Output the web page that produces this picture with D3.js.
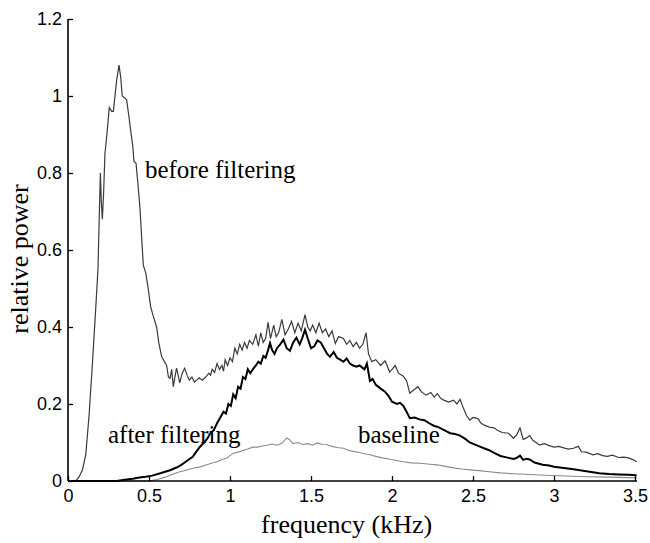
<!DOCTYPE html>
<html>
<head>
<meta charset="utf-8">
<title>relative power vs frequency</title>
<script src="https://d3js.org/d3.v7.min.js"></script>
<style>
  body { margin: 0; background: #fff; }
  .tick text { font-family: "Liberation Sans", Arial, sans-serif; font-size: 18px; fill: #000; }
  .serif { font-family: "Liberation Serif", "Times New Roman", serif; fill: #000; }
</style>
</head>
<body>
<div id="chart"></div>
<script>
// series: [frequency kHz, relative power]
const beforeFiltering = [
  [0,0],[0.04,0],[0.055,0.003],[0.07,0.012],[0.09,0.03],[0.11,0.07],[0.13,0.17],[0.15,0.3],[0.17,0.44],[0.185,0.55],
  [0.195,0.72],[0.2,0.8],[0.205,0.73],[0.212,0.68],[0.22,0.75],[0.228,0.85],[0.24,0.9],[0.255,0.97],[0.27,0.96],[0.28,0.96],
  [0.3,1.04],[0.315,1.08],[0.325,1.05],[0.335,1.0],[0.35,0.995],[0.362,0.99],[0.375,0.95],[0.387,0.91],[0.4,0.87],[0.407,0.83],
  [0.42,0.825],[0.43,0.78],[0.444,0.71],[0.455,0.63],[0.465,0.56],[0.48,0.54],[0.495,0.5],[0.51,0.453],[0.525,0.43],[0.547,0.4],
  [0.56,0.36],[0.578,0.323],[0.595,0.31],[0.609,0.3],[0.62,0.27],[0.63,0.267],[0.64,0.29],[0.65,0.245],[0.66,0.27],[0.67,0.293],
  [0.68,0.275],[0.69,0.255],[0.705,0.28],[0.72,0.293],[0.735,0.275],[0.749,0.262],[0.765,0.27],[0.78,0.257],[0.795,0.262],[0.81,0.268],
  [0.83,0.262],[0.85,0.27],[0.87,0.28],[0.88,0.275],[0.89,0.29],[0.905,0.282],[0.92,0.305],[0.935,0.29],[0.95,0.3],[0.96,0.285],
  [0.97,0.315],[0.985,0.3],[1.0,0.32],[1.015,0.31],[1.03,0.345],[1.045,0.33],[1.06,0.355],[1.075,0.34],[1.09,0.36],[1.105,0.345],
  [1.12,0.365],[1.14,0.355],[1.16,0.38],[1.175,0.35],[1.19,0.385],[1.205,0.36],[1.22,0.37],[1.235,0.412],[1.25,0.37],[1.27,0.405],
  [1.285,0.375],[1.3,0.385],[1.32,0.42],[1.34,0.38],[1.36,0.395],[1.38,0.415],[1.4,0.385],[1.42,0.41],[1.44,0.39],[1.463,0.432],
  [1.48,0.4],[1.495,0.39],[1.51,0.405],[1.53,0.385],[1.55,0.41],[1.57,0.385],[1.59,0.395],[1.61,0.375],[1.63,0.39],[1.65,0.357],
  [1.67,0.375],[1.7,0.37],[1.72,0.355],[1.74,0.365],[1.76,0.349],[1.78,0.36],[1.8,0.345],[1.82,0.355],[1.84,0.385],[1.855,0.33],
  [1.875,0.31],[1.9,0.315],[1.93,0.3],[1.957,0.312],[1.97,0.3],[1.985,0.283],[2.0,0.29],[2.02,0.3],[2.04,0.28],[2.07,0.272],
  [2.09,0.26],[2.11,0.228],[2.13,0.235],[2.16,0.245],[2.18,0.232],[2.21,0.223],[2.24,0.23],[2.26,0.218],[2.28,0.227],[2.3,0.215],
  [2.32,0.21],[2.35,0.205],[2.38,0.21],[2.4,0.2],[2.42,0.212],[2.44,0.19],[2.46,0.17],[2.48,0.158],[2.5,0.165],[2.53,0.162],
  [2.55,0.15],[2.57,0.145],[2.6,0.14],[2.63,0.138],[2.65,0.132],[2.68,0.126],[2.72,0.124],[2.75,0.111],[2.77,0.12],[2.79,0.138],
  [2.81,0.108],[2.83,0.112],[2.85,0.118],[2.87,0.105],[2.89,0.1],[2.91,0.093],[2.94,0.097],[2.97,0.092],[3.0,0.088],[3.03,0.09],
  [3.06,0.086],[3.09,0.083],[3.12,0.085],[3.15,0.09],[3.17,0.076],[3.2,0.075],[3.24,0.068],[3.27,0.071],[3.3,0.066],[3.33,0.064],
  [3.36,0.067],[3.4,0.061],[3.43,0.062],[3.46,0.06],[3.49,0.055],[3.51,0.05]
];

const afterFiltering = [
  [0,0],[0.3,0],[0.35,0.003],[0.4,0.006],[0.44,0.009],[0.48,0.011],[0.52,0.014],[0.57,0.02],[0.6,0.024],[0.63,0.028],
  [0.67,0.035],[0.7,0.042],[0.72,0.048],[0.75,0.057],[0.77,0.063],[0.79,0.075],[0.815,0.089],[0.84,0.1],[0.86,0.11],[0.88,0.125],
  [0.9,0.132],[0.92,0.15],[0.94,0.165],[0.96,0.18],[0.975,0.175],[0.99,0.2],[1.005,0.195],[1.02,0.225],[1.035,0.215],[1.05,0.245],
  [1.065,0.24],[1.08,0.27],[1.095,0.265],[1.11,0.29],[1.125,0.28],[1.144,0.292],[1.16,0.3],[1.175,0.31],[1.19,0.305],[1.206,0.325],
  [1.22,0.32],[1.235,0.34],[1.247,0.358],[1.26,0.34],[1.275,0.33],[1.29,0.345],[1.31,0.355],[1.33,0.367],[1.35,0.345],[1.37,0.338],
  [1.39,0.36],[1.41,0.372],[1.43,0.355],[1.445,0.37],[1.463,0.393],[1.48,0.37],[1.5,0.345],[1.52,0.35],[1.54,0.365],[1.56,0.36],
  [1.58,0.345],[1.6,0.33],[1.617,0.323],[1.64,0.335],[1.66,0.32],[1.68,0.315],[1.7,0.31],[1.72,0.318],[1.74,0.305],[1.76,0.3],
  [1.78,0.297],[1.8,0.3],[1.83,0.29],[1.845,0.305],[1.864,0.26],[1.88,0.265],[1.9,0.25],[1.93,0.24],[1.957,0.232],[1.98,0.22],
  [2.0,0.206],[2.03,0.2],[2.05,0.203],[2.07,0.195],[2.09,0.18],[2.11,0.163],[2.14,0.165],[2.17,0.16],[2.2,0.158],[2.23,0.15],
  [2.26,0.143],[2.28,0.141],[2.31,0.135],[2.34,0.128],[2.36,0.124],[2.39,0.122],[2.42,0.118],[2.45,0.11],[2.48,0.1],[2.52,0.093],
  [2.55,0.088],[2.58,0.083],[2.6,0.08],[2.63,0.073],[2.67,0.065],[2.7,0.062],[2.72,0.06],[2.75,0.057],[2.77,0.06],[2.79,0.066],
  [2.81,0.055],[2.83,0.058],[2.85,0.056],[2.88,0.048],[2.93,0.042],[2.97,0.04],[3.0,0.037],[3.06,0.034],[3.11,0.031],[3.16,0.028],
  [3.22,0.024],[3.28,0.02],[3.34,0.018],[3.4,0.017],[3.46,0.016],[3.51,0.015]
];

const baseline = [
  [0,0],[0.5,0],[0.55,0.004],[0.6,0.01],[0.65,0.018],[0.69,0.024],[0.73,0.028],[0.77,0.033],[0.81,0.036],[0.856,0.042],
  [0.89,0.047],[0.92,0.05],[0.95,0.056],[0.98,0.06],[1.0,0.066],[1.02,0.072],[1.05,0.075],[1.08,0.079],[1.11,0.083],[1.14,0.088],
  [1.17,0.088],[1.2,0.091],[1.23,0.093],[1.26,0.096],[1.29,0.093],[1.32,0.098],[1.35,0.112],[1.365,0.108],[1.39,0.097],[1.42,0.1],
  [1.45,0.095],[1.48,0.097],[1.51,0.093],[1.54,0.099],[1.57,0.095],[1.6,0.094],[1.63,0.09],[1.66,0.087],[1.7,0.085],[1.73,0.08],
  [1.76,0.077],[1.8,0.074],[1.83,0.071],[1.864,0.068],[1.9,0.064],[1.94,0.06],[1.98,0.057],[2.02,0.054],[2.07,0.05],[2.12,0.047],
  [2.17,0.046],[2.22,0.044],[2.276,0.042],[2.33,0.038],[2.38,0.034],[2.43,0.031],[2.48,0.029],[2.54,0.027],[2.6,0.024],[2.67,0.021],
  [2.75,0.019],[2.85,0.017],[2.95,0.015],[3.07,0.013],[3.2,0.011],[3.35,0.01],[3.51,0.008]
];

const xTicks = [0, 0.5, 1, 1.5, 2, 2.5, 3, 3.5];
const yTicks = [0, 0.2, 0.4, 0.6, 0.8, 1, 1.2];

// annotations placed at data coordinates
const labels = [
  { text: "before filtering", f: 0.475, v: 0.787 },
  { text: "after filtering", f: 0.247, v: 0.099 },
  { text: "baseline", f: 1.79, v: 0.099 }
];

const W = 650, H = 543;
const margin = { top: 19, right: 15, bottom: 62, left: 68 };

const x = d3.scaleLinear().domain([0, 3.5]).range([margin.left, W - margin.right]);
const y = d3.scaleLinear().domain([0, 1.2]).range([H - margin.bottom, margin.top]);

const svg = d3.select("#chart").append("svg")
  .attr("width", W)
  .attr("height", H);

const line = d3.line()
  .x(d => x(d[0]))
  .y(d => y(d[1]));

// lines, lightest first
svg.append("path")
  .datum(baseline)
  .attr("d", line)
  .attr("fill", "none")
  .attr("stroke", "#8a8a8a")
  .attr("stroke-width", 1.1);

svg.append("path")
  .datum(beforeFiltering)
  .attr("d", line)
  .attr("fill", "none")
  .attr("stroke", "#3a3a3a")
  .attr("stroke-width", 1.2);

svg.append("path")
  .datum(afterFiltering)
  .attr("d", line)
  .attr("fill", "none")
  .attr("stroke", "#000")
  .attr("stroke-width", 2);

// axes, ticks pointing inward
const xAxis = svg.append("g")
  .attr("transform", `translate(0,${y(0)})`)
  .call(d3.axisBottom(x).tickValues(xTicks).tickSize(-5).tickPadding(8).tickFormat(d3.format("~g")));

const yAxis = svg.append("g")
  .attr("transform", `translate(${x(0)},0)`)
  .call(d3.axisLeft(y).tickValues(yTicks).tickSize(-5).tickPadding(6).tickFormat(d3.format("~g")));

[xAxis, yAxis].forEach(g => {
  g.select(".domain").attr("stroke", "#000").attr("stroke-width", 1.6);
  g.selectAll(".tick line").attr("stroke", "#000").attr("stroke-width", 1.3);
});
xAxis.select(".domain").attr("d", `M${x(0)},0H${x(3.5) + 2}`);
yAxis.select(".domain").attr("d", `M0,${y(1.2)}V${y(0)}`);

// axis titles
svg.append("text")
  .attr("class", "serif")
  .attr("x", x(1.72))
  .attr("y", H - 10)
  .attr("text-anchor", "middle")
  .style("font-size", "26px")
  .text("frequency (kHz)");

svg.append("text")
  .attr("class", "serif")
  .attr("transform", `translate(28,259) rotate(-90)`)
  .attr("text-anchor", "middle")
  .style("font-size", "26px")
  .text("relative power");

svg.selectAll(".anno")
  .data(labels)
  .enter().append("text")
  .attr("class", "serif anno")
  .attr("x", d => x(d.f))
  .attr("y", d => y(d.v))
  .style("font-size", "25px")
  .text(d => d.text);
</script>
</body>
</html>
